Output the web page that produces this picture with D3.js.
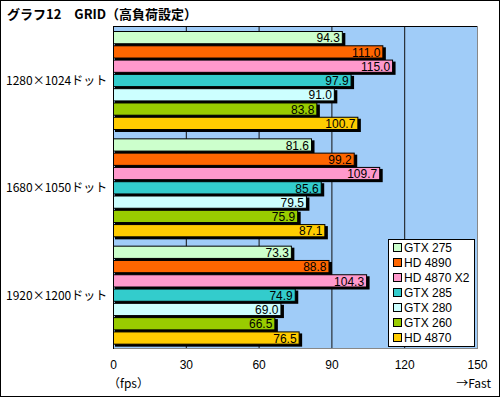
<!DOCTYPE html>
<html>
<head>
<meta charset="utf-8">
<title>グラフ12 GRID</title>
<script src="https://cdn.jsdelivr.net/npm/d3@7"></script>
<style>
	body { margin: 0; background: #fff; }
	text { font-family: "Liberation Sans", "Noto Sans CJK JP", sans-serif; }
	text.jp { font-family: "Noto Sans CJK JP", sans-serif; }
</style>
</head>
<body>
<div id="chart"></div>
<script>
// data
const categories = ["1280×1024ドット", "1680×1050ドット", "1920×1200ドット"];
const seriesNames = ["GTX 275", "HD 4890", "HD 4870 X2", "GTX 285", "GTX 280", "GTX 260", "HD 4870"];
const seriesColors = ["#ccffcc", "#ff6600", "#ff99cc", "#33cccc", "#ccffff", "#99cc00", "#ffcc00"];
const gtx275 = [94.3, 81.6, 73.3];
const hd4890 = [111.0, 99.2, 88.8];
const hd4870x2 = [115.0, 109.7, 104.3];
const gtx285 = [97.9, 85.6, 74.9];
const gtx280 = [91.0, 79.5, 69.0];
const gtx260 = [83.8, 75.9, 66.5];
const hd4870 = [100.7, 87.1, 76.5];
const xTicks = [0, 30, 60, 90, 120, 150];

const seriesValues = [gtx275, hd4890, hd4870x2, gtx285, gtx280, gtx260, hd4870];

const width = 500, height = 397;
const plot = {left: 113, right: 477, top: 26, bottom: 348};

const svg = d3.select("#chart").append("svg")
	.attr("width", width)
	.attr("height", height);

// outer frame
svg.append("rect")
	.attr("x", 0.5).attr("y", 0.5)
	.attr("width", width - 1).attr("height", height - 1)
	.attr("fill", "#fff").attr("stroke", "#000");

svg.append("text")
	.attr("class", "jp")
	.attr("x", 7).attr("y", 19)
	.attr("font-size", 13).attr("font-weight", "bold")
	.text("グラフ12　GRID（高負荷設定）");

const x = d3.scaleLinear().domain([0, 150]).range([plot.left, plot.right]);
const y0 = d3.scaleBand().domain(categories).range([plot.top, plot.bottom]);
const y1 = d3.scaleBand().domain(seriesNames).range([5, 103]).paddingInner(1 / 7).paddingOuter(0);

// plot background
svg.append("rect")
	.attr("x", plot.left).attr("y", plot.top)
	.attr("width", plot.right - plot.left).attr("height", plot.bottom - plot.top)
	.attr("fill", "#a0ccf8");

// grid lines
svg.append("g")
	.selectAll("line")
	.data(xTicks.slice(1, -1))
	.join("line")
	.attr("x1", d => x(d) + 0.5).attr("x2", d => x(d) + 0.5)
	.attr("y1", plot.top).attr("y2", plot.bottom)
	.attr("stroke", "#111");

// plot borders
svg.append("line")
	.attr("x1", plot.left).attr("x2", plot.right)
	.attr("y1", plot.top + 0.5).attr("y2", plot.top + 0.5)
	.attr("stroke", "#000");
svg.append("line")
	.attr("x1", plot.left).attr("x2", plot.right + 1)
	.attr("y1", plot.bottom + 0.5).attr("y2", plot.bottom + 0.5)
	.attr("stroke", "#888");
svg.append("line")
	.attr("x1", plot.right + 0.5).attr("x2", plot.right + 0.5)
	.attr("y1", plot.top).attr("y2", plot.bottom)
	.attr("stroke", "#888");

// bars
const groups = svg.append("g")
	.selectAll("g")
	.data(categories)
	.join("g")
	.attr("transform", d => `translate(0,${y0(d)})`);

const bars = groups.selectAll("g")
	.data((c, ci) => seriesNames.map((s, si) => ({s: s, v: seriesValues[si][ci], color: seriesColors[si]})))
	.join("g");

// drop shadow
bars.append("rect")
	.attr("x", x(0) + 2).attr("y", d => y1(d.s) + 2)
	.attr("width", d => x(d.v) - x(0) + 1.5)
	.attr("height", y1.bandwidth() + 1)
	.attr("fill", "#000");

bars.append("rect")
	.attr("x", x(0) + 0.5).attr("y", d => y1(d.s) + 0.5)
	.attr("width", d => x(d.v) - x(0))
	.attr("height", y1.bandwidth())
	.attr("fill", d => d.color)
	.attr("stroke", "#000");

bars.append("text")
	.attr("x", d => x(d.v) - 2)
	.attr("y", d => y1(d.s) + y1.bandwidth() / 2 + 1)
	.attr("dy", "0.35em")
	.attr("text-anchor", "end")
	.attr("font-size", 12)
	.text(d => d.v.toFixed(1));

// y axis line
svg.append("line")
	.attr("x1", plot.left + 0.5).attr("x2", plot.left + 0.5)
	.attr("y1", plot.top).attr("y2", plot.bottom + 1)
	.attr("stroke", "#000");

// category labels
svg.append("g")
	.selectAll("text")
	.data(categories)
	.join("text")
	.attr("class", "jp")
	.attr("x", 6)
	.attr("y", d => y0(d) + y0.bandwidth() / 2 + 1)
	.attr("dy", "0.35em")
	.attr("font-size", 12)
	.text(d => d);

// x axis labels
const xAxis = d3.axisBottom(x).tickValues(xTicks).tickSize(0).tickPadding(12);
svg.append("g")
	.attr("transform", `translate(0,${plot.bottom})`)
	.call(xAxis)
	.call(g => g.select(".domain").remove())
	.call(g => g.selectAll("text")
		.attr("font-size", 12)
		.attr("font-family", null)
		.attr("fill", "#000"));

svg.append("text")
	.attr("class", "jp")
	.attr("x", 108).attr("y", 388)
	.attr("font-size", 12)
	.text("（fps）");

svg.append("text")
	.attr("class", "jp")
	.attr("x", 491).attr("y", 388)
	.attr("text-anchor", "end")
	.attr("font-size", 12)
	.text("→Fast");

// legend
const legend = svg.append("g").attr("transform", "translate(388,239)");
legend.append("rect")
	.attr("x", 0.5).attr("y", 0.5)
	.attr("width", 86).attr("height", 107)
	.attr("fill", "#fff").attr("stroke", "#000");

const items = legend.selectAll("g.item")
	.data(seriesNames)
	.join("g")
	.attr("class", "item")
	.attr("transform", (d, i) => `translate(5,${8 + i * 15})`);

items.append("rect")
	.attr("x", 0.5).attr("y", -3.5)
	.attr("width", 8).attr("height", 8)
	.attr("fill", (d, i) => seriesColors[i])
	.attr("stroke", "#000");

items.append("text")
	.attr("x", 11).attr("y", 1)
	.attr("dy", "0.35em")
	.attr("font-size", 12)
	.text(d => d);
</script>
</body>
</html>
